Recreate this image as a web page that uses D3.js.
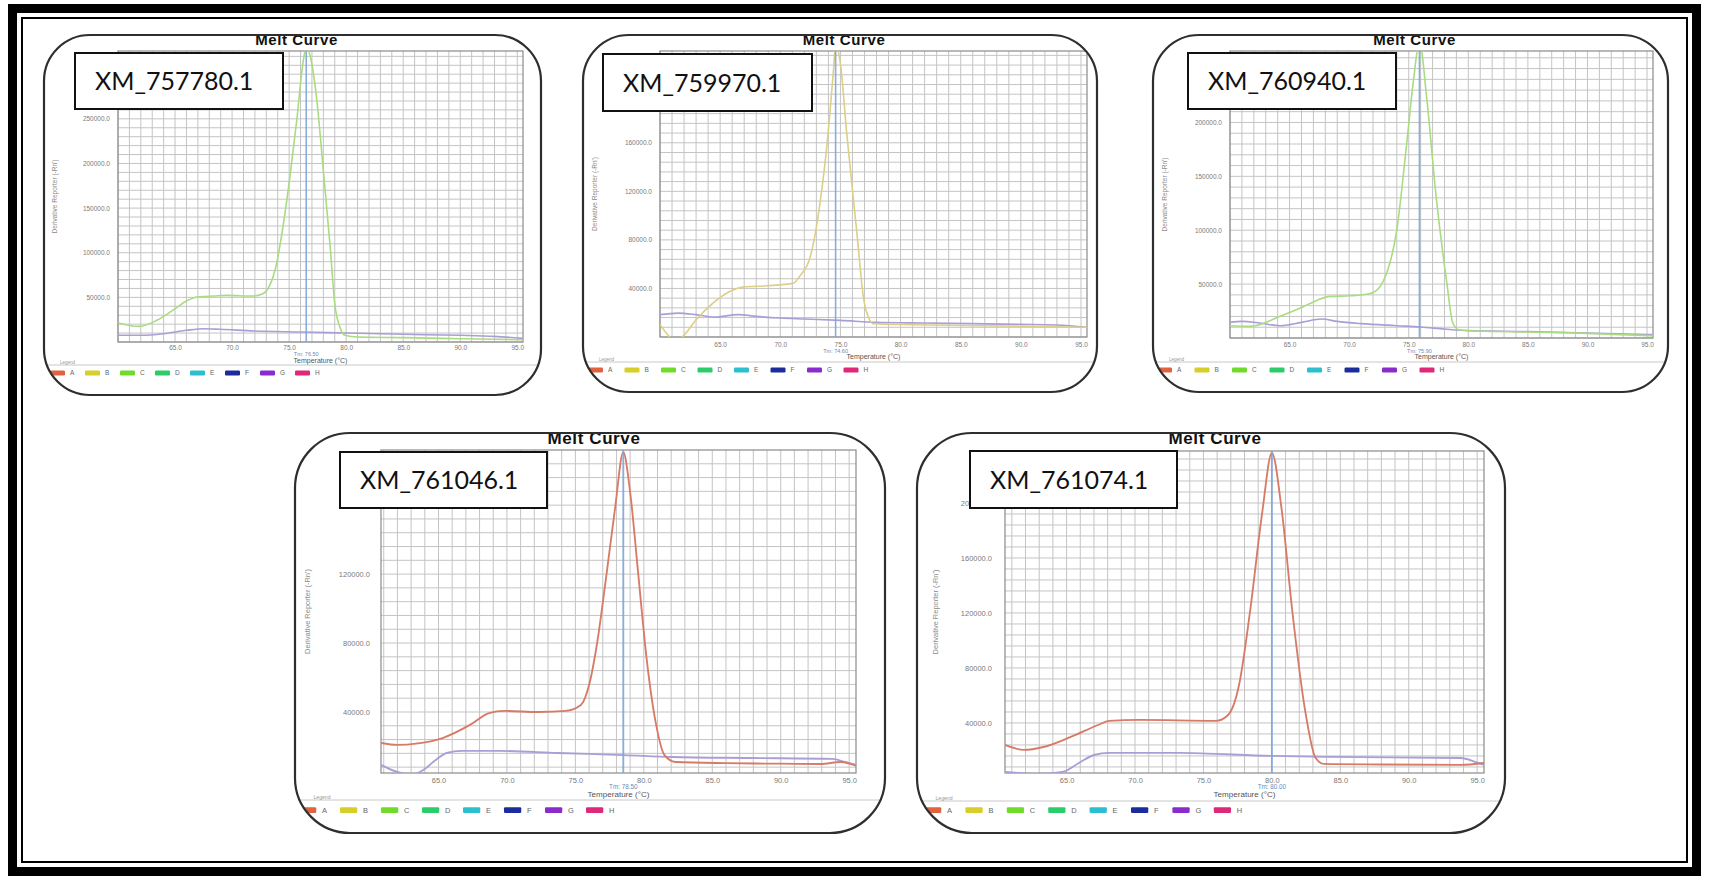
<!DOCTYPE html>
<html>
<head>
<meta charset="utf-8">
<script src="https://cdn.jsdelivr.net/npm/d3@7"></script>
<style>
  html, body { margin: 0; padding: 0; background: #fff; }
  svg { display: block; }
</style>
</head>
<body>
<svg id="fig" width="1709" height="880"></svg>
<script>
// ---------- data ----------
const geneIds = ["XM_757780.1", "XM_759970.1", "XM_760940.1", "XM_761046.1", "XM_761074.1"];
const meltTm = [76.5, 74.6, 75.9, 78.5, 80.0];
const xTickValues = [65, 70, 75, 80, 85, 90, 95];
const xDomains = [[60, 95.5], [60, 95.5], [60, 95.5], [60.8, 95.5], [60.5, 95.5]];
const yDomains = [[0, 326000], [0, 235600], [0, 266300], [4600, 192000], [3600, 237800]];
const yTickSets = [
  [50000, 100000, 150000, 200000, 250000],
  [40000, 80000, 120000, 160000],
  [50000, 100000, 150000, 200000],
  [40000, 80000, 120000, 160000],
  [40000, 80000, 120000, 160000, 200000]
];
const wellLetters = ["A", "B", "C", "D", "E", "F", "G", "H"];

// XM_757780.1 : well C sample, well G control
const p1CTemp = [60.0, 61.0, 61.9, 63.4, 65.0, 66.0, 66.9, 68.4, 69.5, 71.8, 72.7, 73.3, 73.9, 74.5, 75.1, 75.7, 76.2, 76.5, 76.8, 77.4, 78.0, 78.6, 79.0, 79.5, 79.9, 81.0, 85.0, 90.0, 95.5];
const p1CVal = [21300, 18500, 17500, 24300, 37300, 45900, 50400, 51500, 52200, 51500, 54100, 63400, 87700, 132500, 188400, 251800, 311500, 330000, 322700, 274200, 192100, 106300, 42900, 14900, 7500, 5600, 4900, 3700, 2600];
const p1GTemp = [60, 62, 64, 66, 67.5, 69, 72, 76, 80, 85, 90, 93, 95.5];
const p1GVal = [7500, 7500, 9300, 13100, 14900, 14200, 12300, 11200, 10100, 8600, 7500, 6300, 4100];

// XM_759970.1 : well B sample, well G control
const p2BTemp = [60.0, 60.4, 60.9, 61.4, 61.9, 63.0, 64.4, 65.8, 66.9, 68.9, 71.1, 71.6, 72.5, 73.3, 74.0, 74.4, 74.6, 75.0, 75.5, 76.4, 76.9, 77.5, 77.7, 81.0, 86.6, 95.5];
const p2BVal = [10100, 4700, -800, -2500, 500, 14200, 27900, 37500, 41100, 42200, 44400, 49900, 66300, 110100, 170400, 217000, 240000, 225200, 170400, 82700, 33400, 12900, 11000, 10100, 9300, 8000];
const p2GTemp = [60, 61.5, 63, 64.5, 66.5, 68, 70, 72, 75, 78, 82, 86, 90, 93, 95.5];
const p2GVal = [18400, 19700, 18400, 16400, 18400, 17000, 15600, 14800, 13700, 12100, 11500, 11000, 10400, 9900, 7900];

// XM_760940.1 : well C sample, well G control
const p3CTemp = [60.0, 61.7, 64.2, 65.9, 67.3, 68.4, 70.1, 71.7, 72.6, 73.1, 74.0, 74.8, 75.4, 75.9, 76.5, 77.3, 78.2, 78.7, 79.2, 81.3, 86.8, 95.5];
const p3CVal = [11400, 10800, 20100, 27800, 34900, 38600, 39200, 41000, 47800, 58600, 100300, 177400, 239200, 275000, 223700, 131200, 50900, 13900, 7700, 6200, 5200, 2000];
const p3GTemp = [60, 61, 62.5, 64.2, 66, 67.7, 69, 71, 74, 76, 78, 80, 85, 90, 95.5];
const p3GVal = [14500, 15400, 13900, 11400, 14500, 17600, 15400, 13300, 11400, 10200, 8300, 6800, 5900, 4600, 3100];

// XM_761046.1 : well A sample, well G control
const p4ATemp = [60.8, 62.0, 63.5, 65.3, 67.3, 68.7, 69.8, 72.3, 74.3, 75.4, 76.0, 76.6, 77.2, 77.9, 78.5, 79.0, 79.6, 80.2, 80.9, 81.5, 82.3, 86.0, 90.0, 92.9, 94.4, 95.5];
const p4AVal = [22000, 20900, 21800, 24900, 32500, 39400, 40600, 40000, 40600, 44000, 55600, 80600, 115400, 158300, 190700, 167500, 119400, 71300, 32500, 15100, 11000, 10300, 10000, 9800, 11000, 8800];
const p4GTemp = [60.8, 62.0, 63.1, 63.9, 64.8, 65.6, 66.7, 69.5, 73.7, 78.5, 82.1, 87.7, 93.8, 94.7, 95.5];
const p4GVal = [9300, 5200, 3800, 6400, 12200, 16200, 17400, 17400, 16200, 15000, 13900, 13300, 12800, 11000, 9300];

// XM_761074.1 : well A sample, well G control
const p5ATemp = [60.5, 61.9, 63.3, 65.3, 67.3, 68.1, 70.3, 75.9, 76.8, 77.6, 78.4, 79.3, 80.0, 80.7, 81.5, 82.4, 83.2, 83.8, 88.0, 93.8, 95.5];
const p5AVal = [24000, 20400, 22500, 29800, 38500, 41500, 42200, 41500, 45800, 67600, 120700, 193500, 236400, 196400, 120700, 50900, 14500, 10200, 9800, 9500, 10900];
const p5GTemp = [60.5, 62.8, 64.7, 65.9, 67.0, 68.1, 73.1, 80.0, 84.3, 93.8, 94.9, 95.5];
const p5GVal = [4400, 3000, 4400, 10900, 16700, 18200, 18200, 16000, 15300, 14500, 11600, 9500];

const panelCurves = [
  [{ well: "G", t: p1GTemp, v: p1GVal }, { well: "C", t: p1CTemp, v: p1CVal }],
  [{ well: "G", t: p2GTemp, v: p2GVal }, { well: "B", t: p2BTemp, v: p2BVal }],
  [{ well: "G", t: p3GTemp, v: p3GVal }, { well: "C", t: p3CTemp, v: p3CVal }],
  [{ well: "G", t: p4GTemp, v: p4GVal }, { well: "A", t: p4ATemp, v: p4AVal }],
  [{ well: "G", t: p5GTemp, v: p5GVal }, { well: "A", t: p5ATemp, v: p5AVal }]
];

// ---------- styling ----------
const swatchColor = { A: "#e0623e", B: "#d6cf2a", C: "#6fdc2c", D: "#2ccc6c", E: "#2cbfd0", F: "#1c2c9c", G: "#8a2ccc", H: "#e0287a" };
const curveColor = { A: "#d77a66", B: "#dccf86", C: "#a9dc80", G: "#ab9dd6" };
const smallFont = "'Liberation Sans', Arial, sans-serif";

// panel placement on the page
const layout = [
  { box: [44, 35, 497, 360], r: 46, plot: [118, 523, 51, 342], label: [75, 53, 208, 56], titleY: 45, titleSize: 15, s: 1,
    tickY: 348, tmY: 354, xTitleY: 361, legLineY: 365, legY: 373, legX: 6, legStep: 35, yTitleX: 55, yGap: 8 },
  { box: [583, 35, 514, 357], r: 46, plot: [660, 1087, 51, 337], label: [603, 54, 209, 57], titleY: 45, titleSize: 15, s: 1,
    tickY: 345, tmY: 351, xTitleY: 357, legLineY: 362, legY: 370, legX: 5, legStep: 36.5, yTitleX: 595, yGap: 8 },
  { box: [1153, 35, 515, 357], r: 46, plot: [1230, 1653, 51, 338], label: [1188, 53, 208, 56], titleY: 45, titleSize: 15, s: 1,
    tickY: 345, tmY: 351, xTitleY: 357, legLineY: 362, legY: 370, legX: 4, legStep: 37.5, yTitleX: 1165, yGap: 8 },
  { box: [295, 433, 590, 400], r: 55, plot: [381, 856, 450, 773], label: [340, 452, 207, 56], titleY: 444, titleSize: 17, s: 1.15,
    tickY: 780, tmY: 787, xTitleY: 794, legLineY: 800, legY: 810, legX: 4, legStep: 41, yTitleX: 307, yGap: 11 },
  { box: [917, 433, 588, 400], r: 55, plot: [1005, 1484, 451, 773], label: [970, 451, 207, 57], titleY: 444, titleSize: 17, s: 1.15,
    tickY: 780, tmY: 787, xTitleY: 794, legLineY: 801, legY: 810, legX: 7, legStep: 41.4, yTitleX: 935, yGap: 13 }
];

const svg = d3.select("#fig");
const defs = svg.append("defs");

// page frame: heavy outer rule plus thin inner rule
svg.append("rect").attr("x", 12.5).attr("y", 8.5).attr("width", 1684).attr("height", 863)
  .attr("fill", "none").attr("stroke", "#000").attr("stroke-width", 9);
svg.append("rect").attr("x", 22).attr("y", 18).attr("width", 1665).attr("height", 844)
  .attr("fill", "none").attr("stroke", "#000").attr("stroke-width", 2);

layout.forEach((L, i) => {
  const [bx, by, bw, bh] = L.box;
  const [px0, px1, py0, py1] = L.plot;
  const s = L.s;

  const x = d3.scaleLinear().domain(xDomains[i]).range([px0, px1]);
  const y = d3.scaleLinear().domain(yDomains[i]).range([py1, py0]);

  const clipId = "panelClip" + i;
  defs.append("clipPath").attr("id", clipId)
    .append("rect").attr("x", bx).attr("y", by).attr("width", bw).attr("height", bh).attr("rx", L.r).attr("ry", L.r);
  const plotClip = "plotClip" + i;
  defs.append("clipPath").attr("id", plotClip)
    .append("rect").attr("x", px0).attr("y", py0).attr("width", px1 - px0).attr("height", py1 - py0);

  const g = svg.append("g").attr("class", "panel");
  const inner = g.append("g").attr("clip-path", `url(#${clipId})`);

  inner.append("rect").attr("x", bx).attr("y", by).attr("width", bw).attr("height", bh).attr("fill", "#fff");

  // chart title, sitting on the top edge of the frame
  inner.append("text").attr("x", bx + bw / 2 + 4).attr("y", L.titleY)
    .attr("text-anchor", "middle").attr("font-family", smallFont).attr("font-weight", "bold")
    .attr("font-size", L.titleSize).attr("letter-spacing", 0.6).attr("fill", "#111").text("Melt Curve");

  // grid: one vertical line per degree, five horizontal lines per labelled step
  const xd = xDomains[i];
  const vGrid = d3.range(Math.ceil(xd[0]), xd[1] + 1e-9, 1);
  const yt = yTickSets[i];
  const yStep = (yt[1] - yt[0]) / 5;
  const yd = yDomains[i];
  const hGrid = d3.range(Math.ceil(yd[0] / yStep) * yStep, yd[1], yStep);
  const grid = inner.append("g").attr("stroke", "#c4c4c4").attr("stroke-width", 1);
  grid.selectAll("line.v").data(vGrid).join("line").attr("class", "v")
    .attr("x1", d => x(d)).attr("x2", d => x(d)).attr("y1", py0).attr("y2", py1);
  grid.selectAll("line.h").data(hGrid).join("line").attr("class", "h")
    .attr("x1", px0).attr("x2", px1).attr("y1", d => y(d)).attr("y2", d => y(d));
  inner.append("rect").attr("x", px0).attr("y", py0).attr("width", px1 - px0).attr("height", py1 - py0)
    .attr("fill", "none").attr("stroke", "#8a8a8a").attr("stroke-width", 1.2);

  // x axis labels
  const xAxis = inner.append("g").attr("transform", `translate(0,${py1})`)
    .call(d3.axisBottom(x).tickValues(xTickValues).tickFormat(d3.format(".1f")).tickSize(0));
  xAxis.select(".domain").remove();
  xAxis.selectAll("text").attr("y", L.tickY - py1).attr("dy", "0.35em")
    .attr("font-family", smallFont).attr("font-size", 6.5 * s).attr("fill", "#7a7a7a");

  // y axis labels
  const yAxis = inner.append("g").attr("transform", `translate(${px0},0)`)
    .call(d3.axisLeft(y).tickValues(yt).tickFormat(d3.format(".1f")).tickSize(0).tickPadding(L.yGap));
  yAxis.select(".domain").remove();
  yAxis.selectAll("text").attr("font-family", smallFont).attr("font-size", 6.5 * s).attr("fill", "#7a7a7a");

  inner.append("text")
    .attr("transform", `translate(${L.yTitleX},${(py0 + py1) / 2}) rotate(-90)`)
    .attr("text-anchor", "middle").attr("dy", "0.35em")
    .attr("font-family", smallFont).attr("font-size", 6.5 * s).attr("fill", "#8a8a8a")
    .text("Derivative Reporter (-Rn')");

  inner.append("text").attr("x", (px0 + px1) / 2).attr("y", L.xTitleY).attr("dy", "0.35em")
    .attr("text-anchor", "middle").attr("font-family", smallFont).attr("font-size", 7 * s).attr("fill", "#555")
    .text("Temperature (°C)");

  // melt curves
  const line = d3.line().x(d => x(d[0])).y(d => y(d[1])).curve(d3.curveMonotoneX);
  const curves = inner.append("g").attr("clip-path", `url(#${plotClip})`);
  panelCurves[i].forEach(c => {
    const pts = c.t.map((t, k) => [t, c.v[k]]);
    curves.append("path").attr("d", line(pts)).attr("fill", "none")
      .attr("stroke", curveColor[c.well]).attr("stroke-width", 1.6 * s);
  });

  // Tm marker
  const tm = meltTm[i];
  curves.append("line").attr("x1", x(tm)).attr("x2", x(tm)).attr("y1", py0).attr("y2", py1)
    .attr("stroke", "#7ea6d8").attr("stroke-width", 1.6 * s).attr("opacity", 0.9);
  inner.append("text").attr("x", x(tm)).attr("y", L.tmY).attr("dy", "0.35em").attr("text-anchor", "middle")
    .attr("font-family", smallFont).attr("font-size", 5.5 * s).attr("fill", "#6a8ab8")
    .text("Tm: " + d3.format(".2f")(tm));

  // legend strip
  inner.append("line").attr("x1", bx).attr("x2", bx + bw).attr("y1", L.legLineY).attr("y2", L.legLineY)
    .attr("stroke", "#c8c8c8").attr("stroke-width", 1);
  inner.append("text").attr("x", bx + 16 * s).attr("y", L.legLineY - 1.5)
    .attr("font-family", smallFont).attr("font-size", 4.5 * s).attr("fill", "#999").text("Legend");
  const sw = 15 * s, sh = 5 * s;
  const leg = inner.append("g").selectAll("g").data(wellLetters).join("g")
    .attr("transform", (d, k) => `translate(${bx + L.legX + k * L.legStep},${L.legY})`);
  leg.append("rect").attr("x", 0).attr("y", -sh / 2).attr("width", sw).attr("height", sh).attr("rx", 1.2)
    .attr("fill", d => swatchColor[d]);
  leg.append("text").attr("x", sw + 5 * s).attr("y", 0).attr("dy", "0.35em")
    .attr("font-family", smallFont).attr("font-size", 6.5 * s).attr("fill", "#666").text(d => d);

  // gene label box
  const [lx, ly, lw, lh] = L.label;
  inner.append("rect").attr("x", lx).attr("y", ly).attr("width", lw).attr("height", lh)
    .attr("fill", "#fff").attr("stroke", "#111").attr("stroke-width", 2);
  inner.append("text").attr("x", lx + 20).attr("y", ly + lh / 2 + 9)
    .attr("font-family", "Lato, 'Open Sans', sans-serif").attr("font-size", 25).attr("fill", "#111")
    .text(geneIds[i]);

  // rounded frame
  g.append("rect").attr("x", bx).attr("y", by).attr("width", bw).attr("height", bh).attr("rx", L.r).attr("ry", L.r)
    .attr("fill", "none").attr("stroke", "#2e2e2e").attr("stroke-width", 2.2);
});
</script>
</body>
</html>
